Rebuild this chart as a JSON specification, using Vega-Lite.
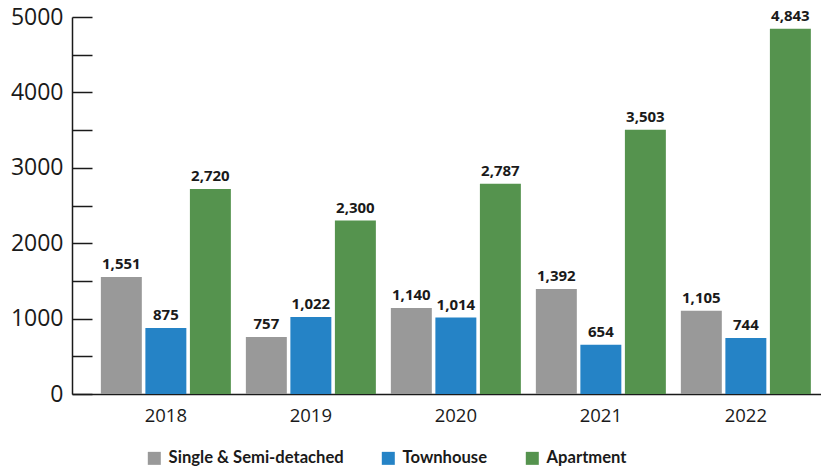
{
  "$schema": "https://vega.github.io/schema/vega-lite/v6.json",
  "width": 749,
  "height": 377,
  "autosize": {"type": "none"},
  "padding": {"left": 72, "top": 17, "right": 0, "bottom": 75},
  "background": "white",
  "config": {
    "view": {"stroke": null},
    "font": "Open Sans",
    "axis": {"labelFont": "Open Sans", "labelColor": "#1a1a1a", "domainColor": "#1a1a1a", "tickColor": "#1a1a1a", "grid": false}
  },
  "data": {
    "values": [
      {"year": "2018", "type": "Single & Semi-detached", "value": 1551},
      {"year": "2018", "type": "Townhouse", "value": 875},
      {"year": "2018", "type": "Apartment", "value": 2720},
      {"year": "2019", "type": "Single & Semi-detached", "value": 757},
      {"year": "2019", "type": "Townhouse", "value": 1022},
      {"year": "2019", "type": "Apartment", "value": 2300},
      {"year": "2020", "type": "Single & Semi-detached", "value": 1140},
      {"year": "2020", "type": "Townhouse", "value": 1014},
      {"year": "2020", "type": "Apartment", "value": 2787},
      {"year": "2021", "type": "Single & Semi-detached", "value": 1392},
      {"year": "2021", "type": "Townhouse", "value": 654},
      {"year": "2021", "type": "Apartment", "value": 3503},
      {"year": "2022", "type": "Single & Semi-detached", "value": 1105},
      {"year": "2022", "type": "Townhouse", "value": 744},
      {"year": "2022", "type": "Apartment", "value": 4843}
    ]
  },
  "encoding": {
    "x": {
      "field": "year", "type": "nominal",
      "scale": {"paddingInner": 0.1034, "paddingOuter": 0.1345, "align": 0.74},
      "axis": {"title": null, "labelAngle": 0, "ticks": false, "labelFontSize": 18.5, "labelPadding": 12, "domainWidth": 1.5}
    },
    "xOffset": {
      "field": "type", "type": "nominal",
      "sort": ["Single & Semi-detached", "Townhouse", "Apartment"],
      "scale": {"paddingInner": 0.08}
    }
  },
  "layer": [
    {
      "mark": {"type": "bar"},
      "encoding": {
        "y": {
          "field": "value", "type": "quantitative",
          "scale": {"domain": [0, 5000], "nice": false},
          "axis": {
            "title": null,
            "values": [0, 1000, 2000, 3000, 4000, 5000],
            "format": "d",
            "ticks": false, "domainWidth": 1.5,
            "labelFontSize": 23, "labelPadding": 9
          }
        },
        "color": {
          "field": "type", "type": "nominal",
          "sort": ["Single & Semi-detached", "Townhouse", "Apartment"],
          "scale": {"domain": ["Single & Semi-detached", "Townhouse", "Apartment"], "range": ["#999999", "#2583c6", "#55934e"]},
          "legend": {
            "title": null, "orient": "none", "direction": "horizontal",
            "legendX": 74, "legendY": 433,
            "symbolType": "square", "symbolSize": 169, "symbolStrokeWidth": 0,
            "labelFontSize": 16.6, "labelFontWeight": "bold", "labelColor": "#1a1a1a",
            "labelFont": "Lato", "labelLimit": 400, "columnPadding": 36, "labelOffset": 6
          }
        }
      }
    },
    {
      "mark": {"type": "text", "baseline": "bottom", "dy": -5, "fontSize": 15, "fontWeight": "bold", "color": "#1a1a1a"},
      "encoding": {
        "y": {
          "field": "value", "type": "quantitative",
          "axis": {
            "title": null, "orient": "right", "offset": -749,
            "values": [0, 500, 1000, 1500, 2000, 2500, 3000, 3500, 4000, 4500, 5000],
            "labels": false, "domain": false,
            "tickSize": 20, "tickWidth": 1.5
          }
        },
        "text": {"field": "value", "type": "quantitative", "format": ","}
      }
    }
  ],
  "resolve": {"axis": {"y": "independent"}}
}
